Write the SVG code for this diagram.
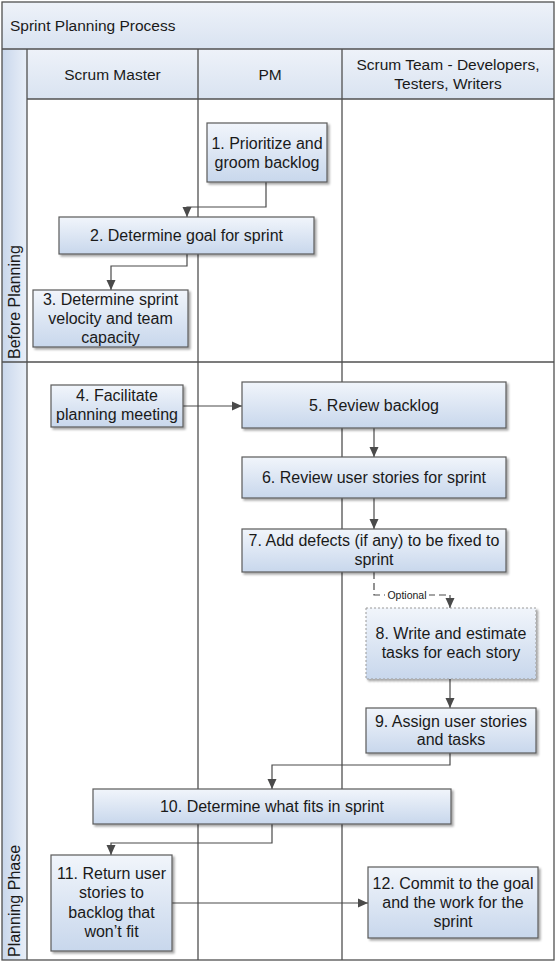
<svg xmlns="http://www.w3.org/2000/svg" width="556" height="966" viewBox="0 0 556 966">
<defs>
<linearGradient id="gBox" x1="0" y1="0" x2="0" y2="1">
<stop offset="0" stop-color="#f1f5fb"/>
<stop offset="1" stop-color="#c8d7ec"/>
</linearGradient>
<linearGradient id="gHead" x1="0" y1="0" x2="0" y2="1">
<stop offset="0" stop-color="#eef2f9"/>
<stop offset="1" stop-color="#d9e3f1"/>
</linearGradient>
<linearGradient id="gStrip" x1="0" y1="0" x2="1" y2="0">
<stop offset="0" stop-color="#c9d7ec"/>
<stop offset="1" stop-color="#e9eff8"/>
</linearGradient>
<filter id="sh" x="-10%" y="-10%" width="130%" height="140%">
<feDropShadow dx="2" dy="2" stdDeviation="1.2" flood-color="#000" flood-opacity="0.35"/>
</filter>
<marker id="ar" markerUnits="userSpaceOnUse" markerWidth="10" markerHeight="10" viewBox="0 0 10 10" refX="10" refY="5" orient="auto">
<path d="M0,0.5 L10,5 L0,9.5 z" fill="#4a4a4a"/>
</marker>
</defs>
<style>
.t{font-family:"Liberation Sans",Arial,sans-serif;font-size:16px;fill:#1a1a1a;text-anchor:middle}
.h{font-family:"Liberation Sans",Arial,sans-serif;font-size:15.5px;fill:#1a1a1a;text-anchor:middle}
.box{fill:url(#gBox);stroke:#5a5a5a;stroke-width:1.2;filter:url(#sh)}
.dbox{fill:url(#gBox);stroke:#9a9a9a;stroke-width:1;stroke-dasharray:2 2;filter:url(#sh)}
.ln{fill:none;stroke:#505050;stroke-width:1.3}
.c{fill:none;stroke:#4a4a4a;stroke-width:1.2;marker-end:url(#ar)}
</style>
<g id="frame">
<rect x="2" y="2" width="552" height="958" fill="#fff"/>
<rect x="2" y="2" width="552" height="47" fill="url(#gHead)"/>
<rect x="27" y="49" width="527" height="50" fill="url(#gHead)"/>
<rect x="2" y="49" width="25" height="911" fill="url(#gStrip)"/>
<rect x="2" y="2" width="552" height="958" class="ln"/>
<line x1="2" y1="49" x2="554" y2="49" class="ln"/>
<line x1="27" y1="99" x2="554" y2="99" class="ln"/>
<line x1="2" y1="362" x2="554" y2="362" class="ln"/>
<line x1="27" y1="49" x2="27" y2="960" class="ln"/>
<line x1="198" y1="49" x2="198" y2="960" class="ln"/>
<line x1="342" y1="49" x2="342" y2="960" class="ln"/>
<text x="10" y="30.5" class="h" style="text-anchor:start">Sprint Planning Process</text>
<text x="112.5" y="79.5" class="h">Scrum Master</text>
<text x="270" y="79.5" class="h">PM</text>
<text x="448" y="70" class="h">Scrum Team - Developers,</text>
<text x="448" y="89" class="h">Testers, Writers</text>
<text transform="translate(20,359) rotate(-90)" class="h" style="text-anchor:start;font-size:16px">Before Planning</text>
<text transform="translate(20,957) rotate(-90)" class="h" style="text-anchor:start;font-size:16px">Planning Phase</text>
</g>
<g id="connectors">
<path class="c" d="M266,182 V207 H187 V217"/>
<path class="c" d="M187,254 V266 H111 V290"/>
<path class="c" d="M183,406 H242"/>
<path class="c" d="M374,428 V457"/>
<path class="c" d="M374,498 V529"/>
<path class="c" d="M374,572 V595 H450 V608" stroke-dasharray="7 4"/>
<path class="c" d="M450,679 V708"/>
<path class="c" d="M450,753 V765 H272 V789"/>
<path class="c" d="M272,824 V843 H111 V855"/>
<path class="c" d="M172,903 H368"/>
<rect x="385" y="588" width="44" height="14" fill="#fff"/>
<text x="407" y="598.5" style="font-family:'Liberation Sans',Arial,sans-serif;font-size:10.5px;fill:#1a1a1a;text-anchor:middle">Optional</text>
</g>
<g id="n1"><rect x="207" y="123" width="120" height="59" class="box"/>
<text x="267" y="148.5" class="t">1. Prioritize and</text><text x="267" y="167.5" class="t">groom backlog</text></g>
<g id="n2"><rect x="59" y="217" width="255" height="37" class="box"/>
<text x="186.5" y="241" class="t">2. Determine goal for sprint</text></g>
<g id="n3"><rect x="33" y="290" width="155" height="57" class="box"/>
<text x="110.5" y="304.5" class="t">3. Determine sprint</text><text x="110.5" y="323.5" class="t">velocity and team</text><text x="110.5" y="342.5" class="t">capacity</text></g>
<g id="n4"><rect x="51" y="385" width="132" height="42" class="box"/>
<text x="117" y="401" class="t">4. Facilitate</text><text x="117" y="420" class="t">planning meeting</text></g>
<g id="n5"><rect x="242" y="382" width="264" height="46" class="box"/>
<text x="374" y="410.5" class="t">5. Review backlog</text></g>
<g id="n6"><rect x="242" y="457" width="264" height="41" class="box"/>
<text x="374" y="482.5" class="t">6. Review user stories for sprint</text></g>
<g id="n7"><rect x="242" y="529" width="264" height="43" class="box"/>
<text x="374" y="545.5" class="t">7. Add defects (if any) to be fixed to</text><text x="374" y="564.5" class="t">sprint</text></g>
<g id="n8"><rect x="366" y="608" width="170" height="71" class="dbox"/>
<text x="451" y="638.5" class="t">8. Write and estimate</text><text x="451" y="657.5" class="t">tasks for each story</text></g>
<g id="n9"><rect x="366" y="708" width="170" height="45" class="box"/>
<text x="451" y="726.5" class="t">9. Assign user stories</text><text x="451" y="745" class="t">and tasks</text></g>
<g id="n10"><rect x="93" y="789" width="358" height="35" class="box"/>
<text x="272" y="811.5" class="t">10. Determine what fits in sprint</text></g>
<g id="n11"><rect x="51" y="855" width="121" height="96" class="box"/>
<text x="111.5" y="878.5" class="t">11. Return user</text><text x="111.5" y="898" class="t">stories to</text><text x="111.5" y="917.5" class="t">backlog that</text><text x="111.5" y="937" class="t">won’t fit</text></g>
<g id="n12"><rect x="368" y="867" width="170" height="71" class="box"/>
<text x="453" y="888.5" class="t">12. Commit to the goal</text><text x="453" y="907.5" class="t">and the work for the</text><text x="453" y="927" class="t">sprint</text></g>
</svg>
